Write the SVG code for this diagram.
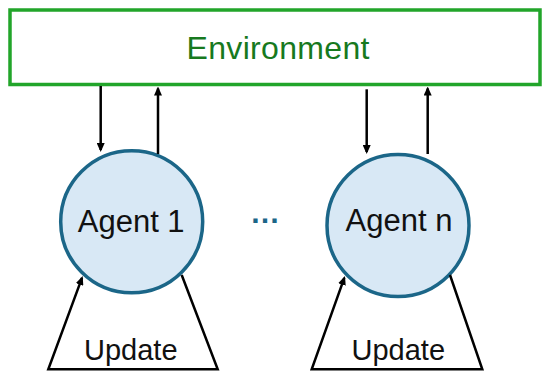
<svg xmlns="http://www.w3.org/2000/svg" width="550" height="384" viewBox="0 0 550 384">
<style>
.env{fill:#ffffff;stroke:#22a52a;stroke-width:3.5}
.envt{font-family:"Liberation Sans",Arial,sans-serif;font-size:32px;fill:#17791e;text-anchor:middle}
.agent{fill:#d8e8f5;stroke:#1b6688;stroke-width:3.5}
.lbl{font-family:"Liberation Sans",Arial,sans-serif;font-size:31px;fill:#111111;text-anchor:middle}
.upd{font-family:"Liberation Sans",Arial,sans-serif;font-size:29px;fill:#111111;text-anchor:middle}
.dots{font-family:"Liberation Sans",Arial,sans-serif;font-size:30px;font-weight:bold;fill:#1b6688;text-anchor:middle}
.c{fill:none;stroke:#000000;stroke-width:2.5;stroke-linejoin:miter}
</style>
<defs>
<marker id="ah" viewBox="0 0 9 8" markerWidth="9" markerHeight="8" refX="7" refY="4" orient="auto" markerUnits="userSpaceOnUse">
<path d="M0,0 L9,4 L0,8 z" fill="#000000"/>
</marker>
</defs>
<rect width="550" height="384" fill="#ffffff"/>
<g id="environment">
<rect class="env" x="10" y="10" width="530" height="74.5"/>
<text class="envt" x="278" y="58.5" textLength="183" lengthAdjust="spacing">Environment</text>
</g>
<g id="agent1">
<circle class="agent" cx="131.7" cy="221.7" r="71"/>
<text class="lbl" x="131.2" y="231.7">Agent 1</text>
</g>
<g id="agentn">
<circle class="agent" cx="398" cy="225.5" r="71"/>
<text class="lbl" x="399" y="230.7">Agent n</text>
</g>
<g id="ellipsis">
<text class="dots" x="265" y="222.5">…</text>
</g>
<g id="update1">
<text class="upd" x="130.8" y="360">Update</text>
</g>
<g id="updaten">
<text class="upd" x="398.3" y="360">Update</text>
</g>
<g id="connectors">
<line class="c" x1="100.7" y1="86" x2="100.7" y2="150" marker-end="url(#ah)"/>
<line class="c" x1="158" y1="154" x2="158" y2="88.5" marker-end="url(#ah)"/>
<line class="c" x1="366.7" y1="89.3" x2="366.7" y2="152" marker-end="url(#ah)"/>
<line class="c" x1="427.7" y1="154" x2="427.7" y2="88.5" marker-end="url(#ah)"/>
<path class="c" d="M181.7,275 L217.7,369.3 L48.3,369.3 L82,277.9" marker-end="url(#ah)"/>
<path class="c" d="M450,275 L482.3,369.3 L311.7,369.3 L344.3,277.9" marker-end="url(#ah)"/>
</g>
</svg>
